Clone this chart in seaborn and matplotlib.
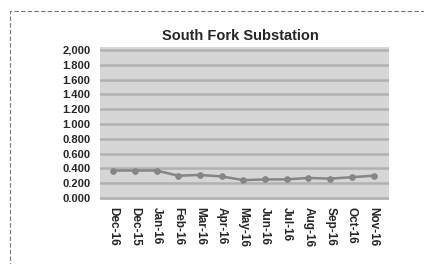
import matplotlib
matplotlib.use("Agg")
import matplotlib.pyplot as plt
import seaborn as sns
import pandas as pd
from matplotlib.patches import Rectangle

months = ["Dec-16", "Dec-15", "Jan-16", "Feb-16", "Mar-16", "Apr-16", "May-16",
          "Jun-16", "Jul-16", "Aug-16", "Sep-16", "Oct-16", "Nov-16"]
values = [0.37, 0.37, 0.37, 0.30, 0.31, 0.29, 0.24, 0.25, 0.25, 0.27, 0.26, 0.28, 0.30]
yticks = [0.0, 0.2, 0.4, 0.6, 0.8, 1.0, 1.2, 1.4, 1.6, 1.8, 2.0]

df = pd.DataFrame({"month": months, "value": values})
df["pos"] = range(len(df))

sns.set_style("white")
plt.rcParams["font.family"] = ["Liberation Sans", "DejaVu Sans"]

fig = plt.figure(figsize=(4.24, 2.64), dpi=100)
ax = fig.add_axes([0.236, 0.242, 0.681, 0.58])
ax.set_facecolor("#d6d6d6")

for t in yticks:
    ax.axhline(t, color="#b0b0b0", lw=1.8, zorder=1)

sns.lineplot(data=df, x="pos", y="value", ax=ax, color="#858585", lw=1.8,
             marker="o", markersize=4, markeredgecolor="#858585", zorder=3)

ax.set_xlim(-0.6, 12.7)
ax.set_ylim(-0.03, 2.04)
ax.set_yticks(yticks)
ax.set_yticklabels([f"{t:.3f}".replace("2.000", "2,000") for t in yticks],
                   fontsize=8, fontweight="bold")
ax.set_xticks(df["pos"])
ax.set_xticklabels(months, rotation=270, fontsize=8.5, fontweight="bold")
ax.tick_params(axis="y", length=0, pad=7)
ax.tick_params(axis="x", length=0, pad=5)
ax.set_xlabel("")
ax.set_ylabel("")
for s in ax.spines.values():
    s.set_visible(False)

fig.text(0.567, 0.865, "South Fork Substation", ha="center", va="center",
         fontsize=10.5, fontweight="bold")

fig.patches.append(Rectangle((0.024, -0.05), 1.0, 1.01, transform=fig.transFigure,
                             fill=False, edgecolor="#777777", lw=0.8, ls=(0, (4, 2))))

fig.savefig("out.png", dpi=100)
